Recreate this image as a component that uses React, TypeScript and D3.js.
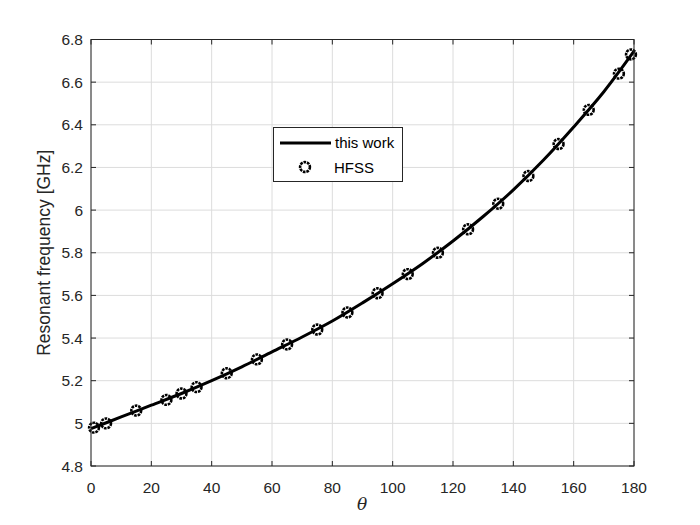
import React from "react";
import * as d3 from "d3";

const lineTheta = [0, 10, 20, 30, 40, 50, 60, 70, 80, 90, 100, 110, 120, 130, 140, 150, 160, 170, 180];
const lineFreq = [4.975, 5.03, 5.085, 5.14, 5.2, 5.265, 5.335, 5.405, 5.48, 5.565, 5.655, 5.75, 5.855, 5.97, 6.095, 6.235, 6.39, 6.555, 6.745];

const hfssTheta = [1, 5, 15, 25, 30, 35, 45, 55, 65, 75, 85, 95, 105, 115, 125, 135, 145, 155, 165, 175, 179];
const hfssFreq = [4.98, 5.0, 5.06, 5.11, 5.14, 5.17, 5.235, 5.3, 5.37, 5.44, 5.52, 5.61, 5.7, 5.8, 5.91, 6.03, 6.16, 6.31, 6.47, 6.64, 6.73];

const xTicks = [0, 20, 40, 60, 80, 100, 120, 140, 160, 180];
const yTicks = [4.8, 5, 5.2, 5.4, 5.6, 5.8, 6, 6.2, 6.4, 6.6, 6.8];

const legendLabels = ["this work", "HFSS"];

const W = 700, H = 525;
const L = 91, R = 634, T = 39.5, B = 466;
const font = "'Liberation Sans', Arial, Helvetica, sans-serif";
const axisColor = "#262626";

export default function App() {
  const x = d3.scaleLinear().domain([0, 180]).range([L, R]);
  const y = d3.scaleLinear().domain([4.8, 6.8]).range([B, T]);
  const line = d3
    .line<number>()
    .x((_, i) => x(lineTheta[i]))
    .y((d) => y(d))
    .curve(d3.curveCatmullRom.alpha(0.5));
  const tl = 5;
  const marker = (cx: number, cy: number, key: string) => (
    <circle key={key} cx={cx} cy={cy} r={4.9} fill="none" stroke="#000" strokeWidth={2.6} strokeDasharray="2.6 0.9" />
  );
  return (
    <svg width={W} height={H} style={{ position: "absolute", left: 0, top: 0, background: "#fff" }}>
      <rect x={0} y={0} width={W} height={H} fill="#fff" />
      <rect x={L} y={T} width={R - L} height={B - T} fill="#fff" />
      {/* grid */}
      {xTicks.map((t) => (
        <line key={"gx" + t} x1={x(t)} x2={x(t)} y1={T} y2={B} stroke="#dcdcdc" strokeWidth={1} />
      ))}
      {yTicks.map((t) => (
        <line key={"gy" + t} x1={L} x2={R} y1={y(t)} y2={y(t)} stroke="#dcdcdc" strokeWidth={1} />
      ))}
      {/* data */}
      <path d={line(lineFreq) || ""} fill="none" stroke="#000" strokeWidth={3} />
      {hfssTheta.map((t, i) => marker(x(t), y(hfssFreq[i]), "m" + i))}
      {/* box */}
      <rect x={L} y={T} width={R - L} height={B - T} fill="none" stroke={axisColor} strokeWidth={1} />
      {/* ticks */}
      {xTicks.map((t) => (
        <g key={"tx" + t}>
          <line x1={x(t)} x2={x(t)} y1={B} y2={B - tl} stroke={axisColor} />
          <line x1={x(t)} x2={x(t)} y1={T} y2={T + tl} stroke={axisColor} />
          <text x={x(t)} y={B + 27} textAnchor="middle" fontFamily={font} fontSize={15.5} fill={axisColor}>
            {t}
          </text>
        </g>
      ))}
      {yTicks.map((t) => (
        <g key={"ty" + t}>
          <line x1={L} x2={L + tl} y1={y(t)} y2={y(t)} stroke={axisColor} />
          <line x1={R} x2={R - tl} y1={y(t)} y2={y(t)} stroke={axisColor} />
          <text x={L - 8} y={y(t) + 5.5} textAnchor="end" fontFamily={font} fontSize={15.5} fill={axisColor}>
            {d3.format("~g")(t)}
          </text>
        </g>
      ))}
      {/* axis labels */}
      <text x={362} y={510} textAnchor="middle" fontFamily="'DejaVu Serif', 'Liberation Serif', serif" fontStyle="italic" fontSize={17} fill={axisColor}>
        θ
      </text>
      <text transform={`translate(50, ${(T + B) / 2}) rotate(-90)`} textAnchor="middle" fontFamily={font} fontSize={17.5} fill={axisColor}>
        Resonant frequency [GHz]
      </text>
      {/* legend */}
      <g>
        <rect x={273.5} y={127.5} width={129} height={54} fill="#fff" stroke={axisColor} strokeWidth={1} />
        <line x1={280} x2={331} y1={143} y2={143} stroke="#000" strokeWidth={3} />
        <text x={335} y={148} fontFamily={font} fontSize={15} fill="#000">
          {legendLabels[0]}
        </text>
        {marker(305, 167, "lm")}
        <text x={334} y={172.5} fontFamily={font} fontSize={15} fill="#000">
          {legendLabels[1]}
        </text>
      </g>
    </svg>
  );
}
